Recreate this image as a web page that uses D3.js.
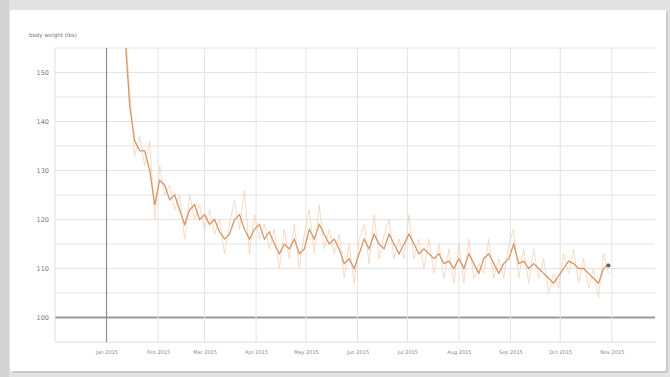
<!DOCTYPE html>
<html>
<head>
<meta charset="utf-8">
<script src="https://cdn.jsdelivr.net/npm/d3@7"></script>
<style>
  html, body { margin: 0; padding: 0; background: #e6e6e6; }
  svg { display: block; }
  text { font-family: "DejaVu Sans", sans-serif; }
</style>
</head>
<body>
<svg id="chart" width="670" height="377"></svg>
<script>
// Month tick labels along the x axis
const tickLabels = ["Jan 2015", "Feb 2015", "Mar 2015", "Apr 2015", "May 2015", "Jun 2015",
                    "Jul 2015", "Aug 2015", "Sep 2015", "Oct 2015", "Nov 2015"];
const yTicks = [100, 110, 120, 130, 140, 150];

// Smoothed trend (one reading every 3 days, starting Jan 11)
const trend = [158, 143, 136, 134, 134, 130, 123, 128, 127, 124, 125, 122, 119, 122, 123, 120,
  121, 119, 120, 117.5, 116, 117, 120, 121, 118, 116, 118, 119, 116, 117.5, 115, 113,
  115, 114, 116, 113, 114, 118, 116, 119, 117, 115, 116, 114, 111, 112, 110, 113,
  116, 114, 117, 115, 114, 117, 115, 113, 115, 117, 115, 113, 114, 113, 112, 113,
  111, 111.5, 110, 112, 110, 113, 111, 109, 112, 113, 111, 109, 111, 112, 115, 111,
  111.5, 110, 111, 110, 109, 108, 107, 108.5, 110, 111.5, 111, 110, 110, 109, 108, 107,
  110, 111];

// Raw daily readings on the same dates
const raw = [160, 146, 133, 137, 131, 136, 120, 131, 125, 127, 122, 125, 116, 125, 120, 123,
  118, 122, 117, 120, 113, 119, 124, 118, 126, 113, 121, 116, 119, 114, 118, 110,
  118, 112, 119, 110, 117, 122, 113, 123, 114, 118, 113, 117, 108, 115, 107, 116,
  119, 111, 121, 112, 117, 120, 112, 116, 112, 121, 112, 116, 110, 116, 109, 115,
  108, 114, 107, 115, 107, 116, 108, 111, 109, 116, 108, 112, 108, 115, 118, 108,
  114, 107, 114, 108, 112, 105, 109, 106, 113, 109, 114, 107, 112, 106, 110, 104,
  113, 109];

const firstDay = new Date(2015, 0, 12);
const dates = trend.map((_, i) => d3.timeDay.offset(firstDay, i * 3));
const tickDates = tickLabels.map((_, i) => new Date(2015, i, 1));

const svg = d3.select("#chart");
const W = 670, H = 377;

// card
svg.append("rect").attr("x", 0).attr("y", 0).attr("width", W).attr("height", H).attr("fill", "#e2e2e2");
svg.append("rect").attr("x", 0).attr("y", 0).attr("width", 9).attr("height", H).attr("fill", "#d2d2d2");
svg.append("rect").attr("x", 12).attr("y", 12).attr("width", 656).attr("height", 361)
  .attr("fill", "#c9c9c9").attr("rx", 2);
svg.append("rect").attr("x", 10).attr("y", 10).attr("width", 656).attr("height", 361)
  .attr("fill", "#ffffff").attr("rx", 2);

svg.append("text").attr("x", 29).attr("y", 37).attr("font-size", 5.5).attr("fill", "#777")
  .text("body weight (lbs)");

const plotL = 55, plotR = 655, plotT = 48, plotB = 342;
const x = d3.scaleTime()
  .domain([new Date(2014, 11, 1), new Date(2015, 10, 27)])
  .range([plotL, plotR]);
const y = d3.scaleLinear().domain([95, 155]).range([plotB, plotT]);

const g = svg.append("g");

// horizontal grid every 5
const minor = d3.range(95, 156, 5);
g.selectAll(".hg").data(minor).join("line")
  .attr("x1", plotL).attr("x2", plotR)
  .attr("y1", d => y(d)).attr("y2", d => y(d))
  .attr("stroke", d => d === 100 ? "#999" : "#e3e3e3")
  .attr("stroke-width", d => d === 100 ? 1.8 : 1);

// vertical grid at month starts
g.selectAll(".vg").data(tickDates).join("line")
  .attr("x1", d => x(d)).attr("x2", d => x(d))
  .attr("y1", plotT).attr("y2", plotB)
  .attr("stroke", (d, i) => i === 0 ? "#8f8f8f" : "#e3e3e3")
  .attr("stroke-width", (d, i) => i === 0 ? 1.2 : 1);

g.append("line").attr("x1", plotL).attr("x2", plotL).attr("y1", plotT).attr("y2", plotB)
  .attr("stroke", "#e0e0e0");

// y axis labels
const yAxis = d3.axisLeft(y).tickValues(yTicks).tickSize(0).tickPadding(6).tickFormat(d3.format("d"));
const ya = svg.append("g").attr("transform", `translate(${plotL},0)`).call(yAxis);
ya.select(".domain").remove();
ya.selectAll("text").attr("font-size", 6.5).attr("fill", "#777").attr("font-family", "DejaVu Sans, sans-serif");

// x axis labels
const xAxis = d3.axisBottom(x).tickValues(tickDates).tickSize(0).tickPadding(8)
  .tickFormat((d, i) => tickLabels[i]);
const xa = svg.append("g").attr("transform", `translate(0,${plotB})`).call(xAxis);
xa.select(".domain").attr("stroke", "#ebebeb");
xa.selectAll("text").attr("font-size", 5).attr("fill", "#888").attr("font-family", "DejaVu Sans, sans-serif");

// clip plot
svg.append("clipPath").attr("id", "plot").append("rect")
  .attr("x", plotL).attr("y", plotT).attr("width", plotR - plotL).attr("height", plotB - plotT);

const line = d3.line().x((d, i) => x(dates[i])).y(d => y(d));
const lines = svg.append("g").attr("clip-path", "url(#plot)");

lines.append("path").datum(raw).attr("d", line)
  .attr("fill", "none").attr("stroke", "#f6cdb0").attr("stroke-width", 0.9).attr("opacity", 0.8);
lines.append("path").datum(trend).attr("d", line)
  .attr("fill", "none").attr("stroke", "#d69766").attr("stroke-width", 1.3);

// latest reading marker
const last = trend.length - 1;
svg.append("circle").attr("cx", x(dates[last])).attr("cy", y(trend[last]) + 2)
  .attr("r", 2).attr("fill", "#6b5a4e");
</script>
</body>
</html>
